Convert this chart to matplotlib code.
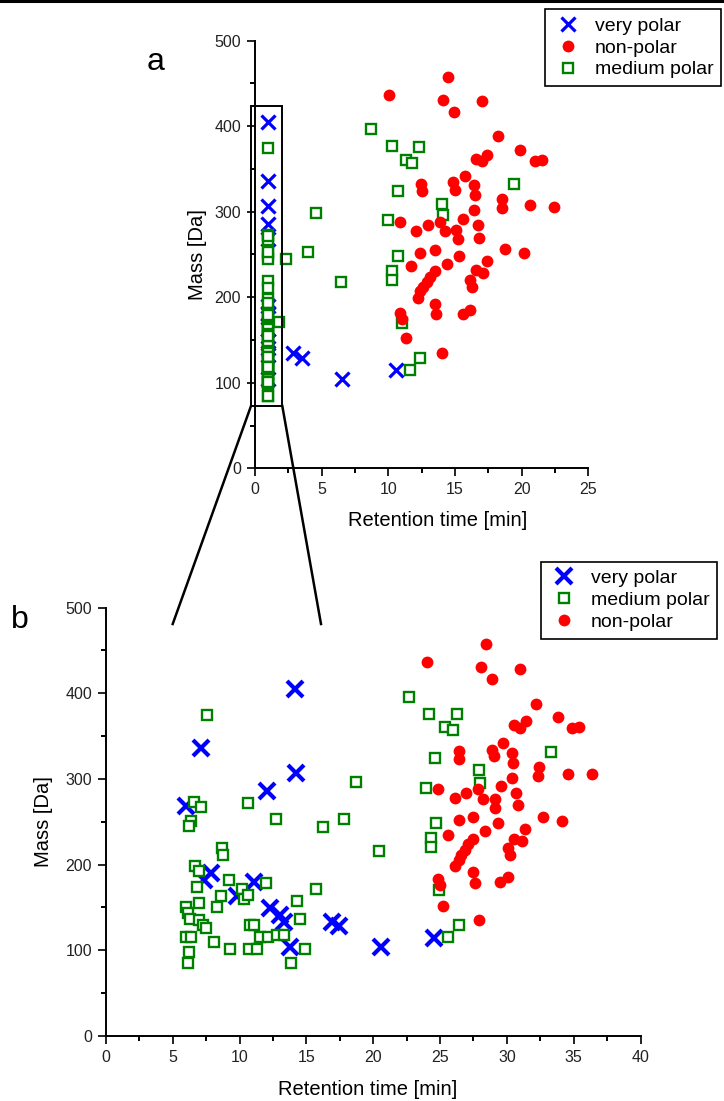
import matplotlib
matplotlib.use("Agg")
import matplotlib.pyplot as plt
from matplotlib.lines import Line2D
from matplotlib.patches import Rectangle
from matplotlib.ticker import MultipleLocator

plt.rcParams['font.family'] = ['Liberation Sans', 'DejaVu Sans']

# ---- panel a data ----
a_vp_x = [1.0, 1.0, 1.0, 1.0, 1.0, 1.0, 1.0, 1.0, 1.0, 1.0, 1.0, 1.0, 1.0,
          2.87, 3.5, 6.56, 10.58]
a_vp_y = [405, 336, 307, 286, 268, 190, 182, 180, 163, 149, 141, 133, 104,
          134.5, 128.7, 104, 115]

a_mp_x = [1.0, 1.0, 1.0, 1.0, 1.0, 1.0, 1.0, 1.0, 1.0, 1.0, 1.0,
          1.0, 1.0, 1.0, 1.0, 1.0, 1.0, 1.0, 1.0, 1.0, 1.0, 1.0,
          1.0, 1.0, 1.0, 1.0, 1.0, 1.0, 1.0, 1.0, 1.0, 1.0, 1.0,
          1.0, 1.0, 1.0, 1.0, 1.0, 1.0, 1.0, 1.0, 1.0, 1.0, 1.0,
          4.6, 4.0, 2.33, 6.43, 1.83,
          8.7, 10.3, 12.3, 11.3, 11.8, 10.7, 19.4, 14.0, 14.1, 10.0,
          10.7, 10.3, 10.3, 11.0, 12.4, 11.6]
a_mp_y = [375, 273, 267, 272, 251, 245, 253, 219, 211, 198, 193,
          174, 182, 171, 160, 165, 163, 150, 179, 157, 137, 151,
          143, 137, 155, 135, 129, 126, 116, 116, 98, 85, 110,
          101, 130, 130, 101, 101, 116, 116, 118, 118, 85, 101,
          298, 253, 244.5, 217.5, 171.5,
          397, 377, 375.5, 361, 357, 324, 332.5, 309, 296, 290,
          248, 231, 220, 170, 129, 115]

a_np_x = [14.5, 10.07, 14.08, 14.9, 17.0, 18.25, 19.9, 16.6, 17.0, 17.4,
          21.0, 21.55, 15.75, 14.83, 15.0, 16.4, 16.5, 12.43, 12.5, 18.5,
          18.5, 20.6, 22.4, 16.45, 15.6, 10.9, 12.1, 13.0, 13.9, 14.25,
          15.1, 15.25, 16.75, 16.8, 18.75, 20.2, 12.4, 13.5, 15.3, 14.4,
          11.7, 17.4, 16.6, 17.1, 16.1, 16.3, 13.5, 13.1, 12.9, 12.6,
          12.4, 12.2, 13.5, 13.6, 15.6, 16.1, 10.9, 11.0, 11.3, 14.0]
a_np_y = [457, 436, 431, 417, 429, 388, 372, 362, 359, 366,
          359, 361, 342, 335, 326, 331, 320, 332, 324, 315,
          304, 308, 306, 302, 292, 288, 278, 284, 288, 278,
          279, 268, 284, 269, 257, 252, 252, 255, 248, 239,
          236, 242, 232, 228, 220, 212, 231, 224, 218, 212,
          207, 199, 192, 181, 181, 185, 182, 175, 152, 135]

# ---- panel b data ----
b_vp_x = [14.15, 7.09, 14.2, 12.03, 5.95, 7.84, 7.34, 9.78, 11.08, 12.28,
          13.0, 13.35, 13.77, 16.9, 17.46, 20.6, 24.57]
b_vp_y = [405, 336, 307, 286, 268, 190, 182, 163, 180, 149,
          141, 133, 104, 133, 128, 104, 114]

b_mp_x = [7.58, 6.6, 7.1, 10.65, 6.34, 6.2, 12.7, 8.66, 8.78, 6.66, 6.96,
          6.83, 9.2, 10.16, 10.33, 10.65, 8.58, 8.28, 11.95, 14.3, 14.5, 5.99,
          6.1, 6.25, 6.98, 6.98, 7.24, 7.49, 6.0, 6.34, 6.24, 6.1, 8.08,
          9.28, 10.78, 11.1, 10.73, 11.3, 11.5, 12.1, 12.8, 13.35, 13.85, 14.9,
          18.7, 16.27, 17.8, 20.4, 15.7,
          22.7, 24.2, 26.25, 25.4, 25.95, 24.6, 33.3, 27.94, 28.0, 23.96,
          24.7, 24.3, 24.3, 24.9, 26.4, 25.6]
b_mp_y = [375, 273, 267, 272, 251, 245, 253, 219, 211, 198, 193,
          174, 182, 171, 160, 165, 163, 150, 179, 157, 137, 151,
          143, 137, 155, 135, 129, 126, 116, 116, 98, 85, 110,
          101, 130, 130, 101, 101, 116, 116, 118, 118, 85, 101,
          296, 244, 253, 216, 171,
          395, 376, 376, 361, 357, 324, 331, 310, 295, 289,
          249, 231, 221, 170, 130, 115]

b_np_x = [28.44, 24.0, 28.05, 31.0, 28.87, 32.2, 33.8, 30.5, 31.0, 31.4,
          34.9, 35.4, 29.7, 28.87, 29.0, 26.4, 26.4, 30.37, 30.44, 32.4,
          32.36, 34.6, 36.35, 30.4, 29.57, 24.87, 26.12, 26.95, 27.87, 28.24,
          29.1, 29.1, 30.7, 30.8, 32.7, 34.1, 26.4, 27.45, 29.3, 28.37,
          25.6, 31.36, 30.5, 31.1, 30.07, 30.24, 27.45, 27.1, 26.9, 26.6,
          26.4, 26.1, 27.5, 27.6, 29.5, 30.1, 24.87, 25.0, 25.25, 27.94]
b_np_y = [457, 436, 430, 428, 416, 387, 372, 363, 359, 367,
          359, 360, 342, 334, 327, 332, 323, 330, 319, 314,
          303, 306, 306, 301, 292, 288, 278, 283, 288, 276,
          277, 266, 283, 270, 256, 251, 252, 255, 248, 239,
          235, 241, 230, 227, 219, 211, 230, 224, 217, 211,
          205, 198, 191, 179, 180, 186, 183, 176, 152, 135]

W, H = 724, 1101
fig = plt.figure(figsize=(W / 100, H / 100), dpi=100)

ax_a = fig.add_axes([255 / W, 1 - 468.3 / H, 333.3 / W, 427.6 / H])
ax_b = fig.add_axes([106 / W, 1 - 1036 / H, 534.5 / W, 428.5 / H])

BLUE, RED, GREEN = '#0000ff', '#ff0000', '#008000'


def style(ax, xmax):
    ax.set_xlim(0, xmax)
    ax.set_ylim(0, 500)
    ax.xaxis.set_major_locator(MultipleLocator(5))
    ax.xaxis.set_minor_locator(MultipleLocator(2.5))
    ax.yaxis.set_major_locator(MultipleLocator(100))
    ax.yaxis.set_minor_locator(MultipleLocator(50))
    for s in ['top', 'right']:
        ax.spines[s].set_visible(False)
    for s in ['left', 'bottom']:
        ax.spines[s].set_linewidth(1.4)
    ax.tick_params(which='major', direction='out', length=6, width=1.4,
                   labelsize=11.5, pad=4, colors='#222222')
    ax.tick_params(which='minor', direction='out', length=3.5, width=1.4)
    ax.set_xlabel('Retention time [min]', fontsize=14.5)
    ax.set_ylabel('Mass [Da]', fontsize=14.5)
    ax.xaxis.label.set_va('center')
    ax.yaxis.label.set_va('center')


# panel a
vp_a, = ax_a.plot(a_vp_x, a_vp_y, 'x', color=BLUE, ms=9.5, mew=2.3, zorder=3,
                  clip_on=False)
mp_a, = ax_a.plot(a_mp_x, a_mp_y, 's', color=GREEN, mfc='white', ms=6.6,
                  mew=1.7, zorder=4, clip_on=False)
np_a, = ax_a.plot(a_np_x, a_np_y, 'o', color=RED, ms=8.5, mew=0, zorder=5,
                  clip_on=False)
style(ax_a, 25)
ax_a.xaxis.set_label_coords(0.549, -0.123)
ax_a.yaxis.set_label_coords(-0.174, 0.5)
ax_a.add_patch(Rectangle((-0.3, 73), 2.35, 351, fill=False, ec='black',
                         lw=1.4, clip_on=False, zorder=6))

# panel b
vp_b, = ax_b.plot(b_vp_x, b_vp_y, 'x', color=BLUE, ms=12, mew=3, zorder=3)
mp_b, = ax_b.plot(b_mp_x, b_mp_y, 's', color=GREEN, mfc='white', ms=6.6,
                  mew=1.7, zorder=4)
np_b, = ax_b.plot(b_np_x, b_np_y, 'o', color=RED, ms=8.5, mew=0, zorder=5)
style(ax_b, 40)
ax_b.xaxis.set_label_coords(0.49, -0.124)
ax_b.yaxis.set_label_coords(-0.116, 0.5)


def fig_line(x0, y0, x1, y1, lw):
    fig.add_artist(Line2D([x0 / W, x1 / W], [1 - y0 / H, 1 - y1 / H],
                          transform=fig.transFigure, color='black', lw=lw))


# zoom connector lines and the top border
fig_line(251, 406, 172.7, 624, 1.8)
fig_line(282.3, 406, 321, 624, 1.8)
fig_line(0, 1, W, 1, 2.2)

leg_kw = dict(loc='upper left', borderaxespad=0, fontsize=14, frameon=True,
              fancybox=False, framealpha=1, edgecolor='black',
              handlelength=1.6, handletextpad=0.55, borderpad=0.4,
              labelspacing=0.22, numpoints=1)
leg_a = fig.legend([vp_a, np_a, mp_a], ['very polar', 'non-polar', 'medium polar'],
                   bbox_to_anchor=(545 / W, 1 - 9.3 / H), **leg_kw)
leg_a.get_frame().set_linewidth(1.2)
leg_b = fig.legend([vp_b, mp_b, np_b], ['very polar', 'medium polar', 'non-polar'],
                   bbox_to_anchor=(541 / W, 1 - 561.7 / H), **leg_kw)
leg_b.get_frame().set_linewidth(1.2)

fig.text(156 / W, 1 - 62 / H, 'a', fontsize=23, ha='center', va='center')
fig.text(20 / W, 1 - 620 / H, 'b', fontsize=23, ha='center', va='center')

fig.savefig('out.png', dpi=100)
